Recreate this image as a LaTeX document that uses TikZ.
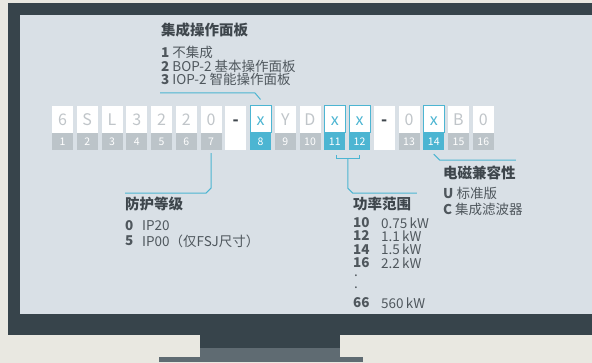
\documentclass[tikz,border=0pt]{standalone}
\usepackage{fontspec}
\setmainfont{Noto Sans CJK SC}
\usepackage{xcolor}
\usepackage{tikz}
\usetikzlibrary{positioning}
\definecolor{beige}{HTML}{E9E8E1}
\definecolor{framedark}{HTML}{37444B}
\definecolor{standgray}{HTML}{5F6B72}
\definecolor{screen}{HTML}{D9E0E6}
\definecolor{siecyan}{HTML}{4CB5D2}
\definecolor{boxgray}{HTML}{BCC4C9}
\definecolor{lettergray}{HTML}{C0C5C9}
\definecolor{textdark}{HTML}{3E464C}
\definecolor{textmid}{HTML}{4F575D}

\begin{document}
\begin{tikzpicture}[x=1pt, y=-1pt,
                cell/.style = {minimum width=21pt, minimum height=27pt, inner sep=0pt, fill=white, text=lettergray, text height=12pt, text depth=0pt, font=\fontsize{16}{16}\selectfont},
                cell1/.style = {cell, draw=siecyan, line width=1pt, text=siecyan},
                minus/.style = {cell, text=textdark, font=\fontsize{16}{16}\selectfont\bfseries},
                num/.style = {minimum width=21pt, minimum height=17pt, inner sep=0pt, fill=boxgray, text=white, text height=7.5pt, text depth=0pt, font=\fontsize{10.5}{10.5}\selectfont},
                num1/.style = {num, fill=siecyan},
                num0/.style = {num, fill=white},
                head/.style = {anchor=west, inner sep=0pt, text=textdark, font=\fontsize{14.5}{14.5}\selectfont\bfseries},
                item/.style = {anchor=west, inner sep=0pt, text=textmid, font=\fontsize{13.5}{13.5}\selectfont},
                callout/.style = {draw=siecyan, line width=1pt}]
                \useasboundingbox (0,0) rectangle (592,363);
                % Monitor
                \fill[beige] (0,0) rectangle (592,363);
                \fill[framedark] (8,3) rectangle (592,335);
                \fill[screen] (20,15) rectangle (592,314);
                \fill[framedark] (200,335) rectangle (340,348);
                \fill[standgray] (200,348) rectangle (340,357);
                \fill[standgray] (159,357) rectangle (363,362);
                % Order number characters
                \node[cell] (c1) at (62.5,119.5) {6};
                \node[cell] (c2) at (87.25,119.5) {S};
                \node[cell] (c3) at (112,119.5) {L};
                \node[cell] (c4) at (136.75,119.5) {3};
                \node[cell] (c5) at (161.5,119.5) {2};
                \node[cell] (c6) at (186.25,119.5) {2};
                \node[cell] (c7) at (211,119.5) {0};
                \node[minus] (m1) at (235.75,119.5) {-};
                \node[cell1] (c8) at (260.5,119.5) {x};
                \node[cell] (c9) at (285.25,119.5) {Y};
                \node[cell] (c10) at (310,119.5) {D};
                \node[cell1] (c11) at (334.75,119.5) {x};
                \node[cell1] (c12) at (359.5,119.5) {x};
                \node[minus] (m2) at (384.25,119.5) {-};
                \node[cell] (c13) at (409,119.5) {0};
                \node[cell1] (c14) at (433.75,119.5) {x};
                \node[cell] (c15) at (458.5,119.5) {B};
                \node[cell] (c16) at (483.25,119.5) {0};
                % Position numbers
                \node[num] (n1) at (62.5,141.5) {1};
                \node[num] (n2) at (87.25,141.5) {2};
                \node[num] (n3) at (112,141.5) {3};
                \node[num] (n4) at (136.75,141.5) {4};
                \node[num] (n5) at (161.5,141.5) {5};
                \node[num] (n6) at (186.25,141.5) {6};
                \node[num] (n7) at (211,141.5) {7};
                \node[num0] (b1) at (235.75,141.5) {};
                \node[num1] (n8) at (260.5,141.5) {8};
                \node[num] (n9) at (285.25,141.5) {9};
                \node[num] (n10) at (310,141.5) {10};
                \node[num1] (n11) at (334.75,141.5) {11};
                \node[num1] (n12) at (359.5,141.5) {12};
                \node[num0] (b2) at (384.25,141.5) {};
                \node[num] (n13) at (409,141.5) {13};
                \node[num1] (n14) at (433.75,141.5) {14};
                \node[num] (n15) at (458.5,141.5) {15};
                \node[num] (n16) at (483.25,141.5) {16};
                % Operator panel
                \node[head] (panel) at (161,30) {集成操作面板};
                \node[item] (panel1) at (161,52) {\textbf{1} 不集成};
                \node[item] (panel2) at (161,66) {\textbf{2} BOP-2 基本操作面板};
                \node[item] (panel3) at (161,79) {\textbf{3} IOP-2 智能操作面板};
                % Protection class
                \node[head] (prot) at (125,204) {防护等级};
                \node[item] (prot0) at (125,226) {\textbf{0}};
                \node[item] (prot0v) at (142,226) {IP20};
                \node[item] (prot5) at (125,241) {\textbf{5}};
                \node[item] (prot5v) at (142,241) {IP00（仅FSJ尺寸）};
                % Power range
                \node[head] (power) at (353,204) {功率范围};
                \node[item] (p10) at (353,223) {\textbf{10}};
                \node[item] (p10v) at (381,223) {0.75\,kW};
                \node[item] (p12) at (353,236) {\textbf{12}};
                \node[item] (p12v) at (381,236) {1.1\,kW};
                \node[item] (p14) at (353,249.5) {\textbf{14}};
                \node[item] (p14v) at (381,249.5) {1.5\,kW};
                \node[item] (p16) at (353,263) {\textbf{16}};
                \node[item] (p16v) at (381,263) {2.2\,kW};
                \node[item] (pd1) at (354,276) {.};
                \node[item] (pd2) at (354,288) {.};
                \node[item] (p66) at (353,303) {\textbf{66}};
                \node[item] (p66v) at (381,303) {560\,kW};
                % EMC
                \node[head] (emc) at (443,173) {电磁兼容性};
                \node[item] (emcu) at (443,193) {\textbf{U} 标准版};
                \node[item] (emcc) at (443,209) {\textbf{C} 集成滤波器};
                % Lines
                \coordinate (pl) at (160,93);
                \coordinate (pr) at (255,93);
                \draw[callout] (pl) -- (pr) -- ([yshift=6pt]c8.north);
                \draw[callout] ([yshift=-3pt]n7.south) -- ++(0,35) -- ++(-5,5) -- ++(-81,0);
                \draw[callout] (n11.south) ++(1.5,5) -- ++(0,3) -- ++(23,0) -- ++(0,-3);
                \draw[callout] (n11.south) ++(13,8) -- ++(0,30) -- ++(5,5) -- ++(64,0);
                \draw[callout] (n14.south) ++(0,4) -- ++(6,6) -- ++(76,0);
            \end{tikzpicture}
\end{document}
